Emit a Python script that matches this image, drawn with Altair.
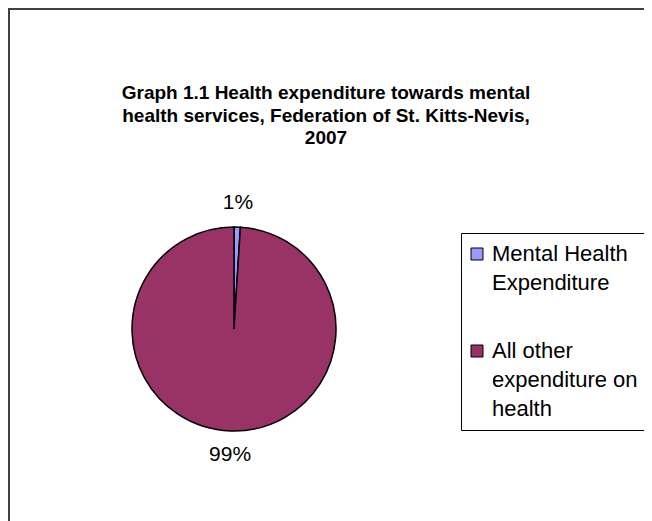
import altair as alt
import pandas as pd

categories = ["Mental Health Expenditure", "All other expenditure on health"]
values = [1, 99]
pct_labels = ["1%", "99%"]
colors = ["#9999FF", "#993366"]
title_lines = [
    "Graph 1.1 Health expenditure towards mental",
    "health services, Federation of St. Kitts-Nevis,",
    "2007",
]

df = pd.DataFrame({
    "category": categories,
    "value": values,
    "label": pct_labels,
    "order": list(range(len(categories))),
})
title_df = pd.DataFrame({"title": ["\n".join(title_lines)]})

FONT = "Liberation Sans"
W, H = 636, 513
CX, CY = 226, 321

label_expr = (
    "datum.label == 'Mental Health Expenditure' ? ['Mental Health', 'Expenditure'] : "
    "['All other', 'expenditure on', 'health']"
)

base = alt.Chart(df).encode(
    theta=alt.Theta("value:Q", stack=True),
    order=alt.Order("order:Q"),
)

pie = base.mark_arc(radius=102, stroke="black", strokeWidth=1.5).encode(
    x=alt.value(CX),
    y=alt.value(CY),
    color=alt.Color(
        "category:N",
        scale=alt.Scale(domain=categories, range=colors),
        legend=alt.Legend(
            orient="none",
            legendX=453,
            legendY=225,
            title=None,
            symbolType="square",
            symbolSize=144,
            symbolStrokeColor="black",
            symbolStrokeWidth=1,
            symbolOffset=-5,
            labelFont=FONT,
            labelFontSize=22,
            labelColor="black",
            labelExpr=label_expr,
            labelLimit=400,
            labelOffset=4,
            strokeColor="black",
            fillColor="white",
            padding=10,
            rowPadding=46,
        ),
        sort=categories,
    ),
)

labels = base.mark_text(radius=126, font=FONT, fontSize=21, color="black").encode(
    x=alt.value(CX),
    y=alt.value(CY),
    text="label:N",
)

title = alt.Chart(title_df).mark_text(
    font=FONT, fontSize=19, fontWeight="bold", color="black",
    lineBreak="\n", lineHeight=22.5, align="center", baseline="middle",
).encode(x=alt.value(318), y=alt.value(85), text="title:N")

border_df = pd.DataFrame({"side": ["left", "top"]})
left_border = alt.Chart(border_df).transform_filter("datum.side == 'left'").mark_rule(
    color="#404040", strokeWidth=2
).encode(x=alt.value(1), y=alt.value(0), y2=alt.value(H))
top_border = alt.Chart(border_df).transform_filter("datum.side == 'top'").mark_rule(
    color="#404040", strokeWidth=2
).encode(y=alt.value(1), x=alt.value(0), x2=alt.value(W))

chart = alt.layer(left_border, top_border, title, pie, labels).properties(
    width=W,
    height=H,
    autosize=alt.AutoSizeParams(type="none"),
    padding=0,
).configure(
    style={"guide-label": {"lineHeight": 29}},
).configure_view(stroke=None)

chart.save("out.html", embed_options={"renderer": "svg", "actions": False})
